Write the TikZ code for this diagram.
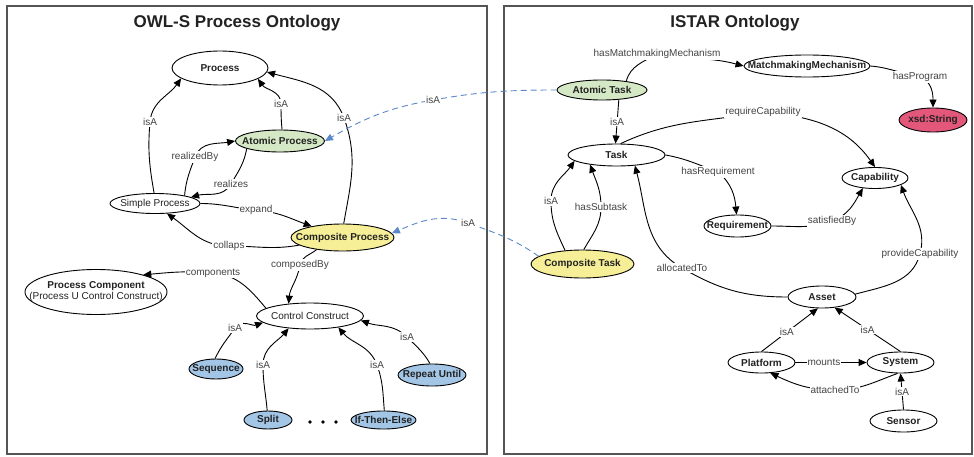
\documentclass[tikz,border=0pt]{standalone}
\usepackage{fontspec}
\setmainfont{Liberation Sans}
\usetikzlibrary{shapes.geometric,arrows.meta}
\definecolor{gfill}{HTML}{D5E8C5}
\definecolor{yfill}{HTML}{F6EF97}
\definecolor{bfill}{HTML}{A3C6E6}
\definecolor{rfill}{HTML}{E2577A}
\definecolor{dblue}{HTML}{5A88C8}
\definecolor{txt}{HTML}{222222}
\definecolor{ltxt}{HTML}{444444}
\definecolor{framec}{HTML}{555555}
\newcommand\nodetxt[1]{\makebox[0pt][c]{#1}}
\begin{document}
\begin{tikzpicture}[x=1pt,y=1pt,
  nd/.style 2 args={ellipse, draw=black, line width=0.9pt, inner sep=0pt,
     minimum width=#1, minimum height=#2, text=txt,
     font=\fontsize{10}{12}\selectfont\bfseries},
  ndr/.style={font=\fontsize{10}{12}\selectfont},
  lbl/.style={fill=white, inner sep=1pt, text=ltxt, font=\fontsize{10}{12}\selectfont},
  edge/.style={draw=black, line width=0.9pt, -{Triangle[length=8pt,width=7pt]}},
  dedge/.style={draw=dblue, line width=0.9pt, dash pattern=on 6pt off 4pt,
     -{Triangle[length=8pt,width=7pt]}},
  ttl/.style={text=txt, font=\fontsize{17}{20}\selectfont\bfseries},
  panel/.style={draw=framec, line width=1.2pt}]
\useasboundingbox (0,0) rectangle (974,456);
\fill[white] (0,0) rectangle (974,456);
% panels
\draw[panel] (7,2) rectangle (487,450);
\draw[panel] (504,2) rectangle (972,450);
\node[ttl] (t1) at (237,433) {OWL-S Process Ontology};
\node[ttl] (t2) at (735,433) {ISTAR Ontology};

% ---- left nodes
\node[nd={96pt}{34pt}] (proc) at (220,388) {\nodetxt{Process}};
\node[nd={89pt}{22pt}, fill=gfill] (ap) at (280,315) {\nodetxt{Atomic Process}};
\node[nd={90pt}{20pt}, ndr] (sp) at (155,252.5) {\nodetxt{Simple Process}};
\node[nd={103pt}{27pt}, fill=yfill] (cp) at (342.5,218.5) {\nodetxt{Composite Process}};
\node[nd={142pt}{45pt}] (pc) at (96,164) {\nodetxt{\begin{tabular}{@{}c@{}}Process Component\\[-1pt]\mdseries (Process U Control Construct)\end{tabular}}};
\node[nd={107pt}{26pt}, ndr] (cc) at (310,140) {\nodetxt{Control Construct}};
\node[nd={54pt}{20pt}, fill=bfill] (seq) at (216,87) {\nodetxt{Sequence}};
\node[nd={48pt}{18pt}, fill=bfill] (spl) at (268,36) {\nodetxt{Split}};
\node[nd={65pt}{18pt}, fill=bfill] (ite) at (383.5,36) {\nodetxt{If-Then-Else}};
\node[nd={68pt}{22pt}, fill=bfill] (ru) at (432,81) {\nodetxt{Repeat Until}};
\fill (310,34) circle (1.8);
\fill (323,34) circle (1.8);
\fill (336,34) circle (1.8);

% ---- right nodes
\node[nd={90pt}{20pt}, fill=gfill] (at) at (602,366) {\nodetxt{Atomic Task}};
\node[nd={126pt}{22pt}] (mm) at (807,390) {\nodetxt{MatchmakingMechanism}};
\node[nd={68pt}{24pt}, fill=rfill] (xsd) at (933,336) {\nodetxt{xsd:String}};
\node[nd={97pt}{22pt}] (task) at (616.5,301) {\nodetxt{Task}};
\node[nd={66pt}{21pt}] (cap) at (875,278) {\nodetxt{Capability}};
\node[nd={67pt}{22pt}] (req) at (737.5,230) {\nodetxt{Requirement}};
\node[nd={103pt}{28pt}, fill=yfill] (ct) at (582.5,192) {\nodetxt{Composite Task}};
\node[nd={68pt}{22pt}] (asset) at (822,159) {\nodetxt{Asset}};
\node[nd={67pt}{21pt}] (plat) at (761.5,93.5) {\nodetxt{Platform}};
\node[nd={67pt}{21pt}] (sys) at (900.5,93.5) {\nodetxt{System}};
\node[nd={67pt}{22pt}] (sen) at (903.5,35) {\nodetxt{Sensor}};

% ---- left edges
\draw[edge] (sp.95) to[out=100,in=265] (150,334) node[lbl]{isA} to[out=85,in=235] (proc.195);
\draw[edge] (ap.80) to[out=95,in=270] (281,352) node[lbl]{isA} to[out=90,in=305] (proc.344);
\draw[edge] (cp.85) to[out=80,in=290] (344,338) node[lbl]{isA} to[out=110,in=345] (proc.355);
\draw[edge] (sp.15) to[out=85,in=250] (195,299) node[lbl]{realizedBy} to[out=70,in=190] (ap.west);
\draw[edge] (ap.193) to[out=260,in=60] (231,272) node[lbl]{realizes} to[out=240,in=15] (sp.10);
\draw[edge] (sp.east) to[out=0,in=175] (256,246) node[lbl]{expand} to[out=-5,in=160] (cp.160);
\draw[edge] (cp.190) to[out=190,in=0] (229,210) node[lbl]{collaps} to[out=180,in=325] (sp.320);
\draw[edge] (cp.205) to[out=220,in=80] (300,191) node[lbl]{composedBy} to[out=260,in=85] (cc.150);
\draw[edge] (cc.170) to[out=130,in=355] (213,183) node[lbl]{components} to[out=175,in=5] (pc.20);
\draw[edge] (seq.95) to[out=65,in=235] (235,128) node[lbl]{isA} to[out=55,in=200] (cc.188);
\draw[edge] (spl.95) to[out=95,in=270] (263,91) node[lbl]{isA} to[out=90,in=230] (cc.210);
\draw[edge] (ite.85) to[out=95,in=290] (377,91) node[lbl]{isA} to[out=110,in=310] (cc.338);
\draw[edge] (ru.100) to[out=120,in=315] (407,119) node[lbl]{isA} to[out=135,in=340] (cc.355);

% ---- cross-ontology edges
\draw[dedge] (at.west) to[out=180,in=10] (433,356) node[lbl]{isA} to[out=190,in=30] (ap.east);
\draw[dedge] (ct.170) to[out=145,in=340] (468,233) node[lbl]{isA} to[out=160,in=23] (cp.5);

% ---- right edges
\draw[edge] (at.20) to[out=75,in=210] (657,402) node[lbl]{hasMatchmakingMechanism} to[out=-10,in=165] (mm.west);
\draw[edge] (mm.east) to[out=-5,in=170] (920,379) node[lbl]{hasProgram} to[out=-20,in=90] (xsd.north);
\draw[edge] (at.330) -- node[lbl]{isA} (task.95);
\draw[edge] (task.70) to[out=25,in=190] (763,344) node[lbl]{requireCapability} to[out=-5,in=125] (cap.north);
\draw[edge] (task.east) to[out=-10,in=160] (718,284) node[lbl]{hasRequirement} to[out=-40,in=95] (req.95);
\draw[edge] (req.east) to[out=0,in=200] (832,235) node[lbl]{satisfiedBy} to[out=20,in=240] (cap.220);
\draw[edge] (ct.142) to[out=115,in=270] (551,255) node[lbl]{isA} to[out=90,in=235] (task.188);
\draw[edge] (ct.85) to[out=60,in=270] (601,249) node[lbl]{hasSubtask} to[out=90,in=290] (task.200);
\draw[edge] (asset.west) to[out=180,in=330] (682,188) node[lbl]{allocatedTo} to[out=150,in=285] (task.330);
\draw[edge] (asset.5) to[out=15,in=255] (920,202) node[lbl]{provideCapability} to[out=75,in=290] (cap.345);
\draw[edge] (plat.north) -- node[lbl,pos=.45]{isA} (asset.250);
\draw[edge] (sys.north) -- node[lbl]{isA} (asset.320);
\draw[edge] (plat.east) -- node[lbl,pos=.4]{mounts} (sys.west);
\draw[edge] (sys.255) to[out=200,in=0] (835,66) node[lbl]{attachedTo} to[out=180,in=335] (plat.310);
\draw[edge] (sen.north) -- node[lbl]{isA} (sys.south);
\end{tikzpicture}
\end{document}
